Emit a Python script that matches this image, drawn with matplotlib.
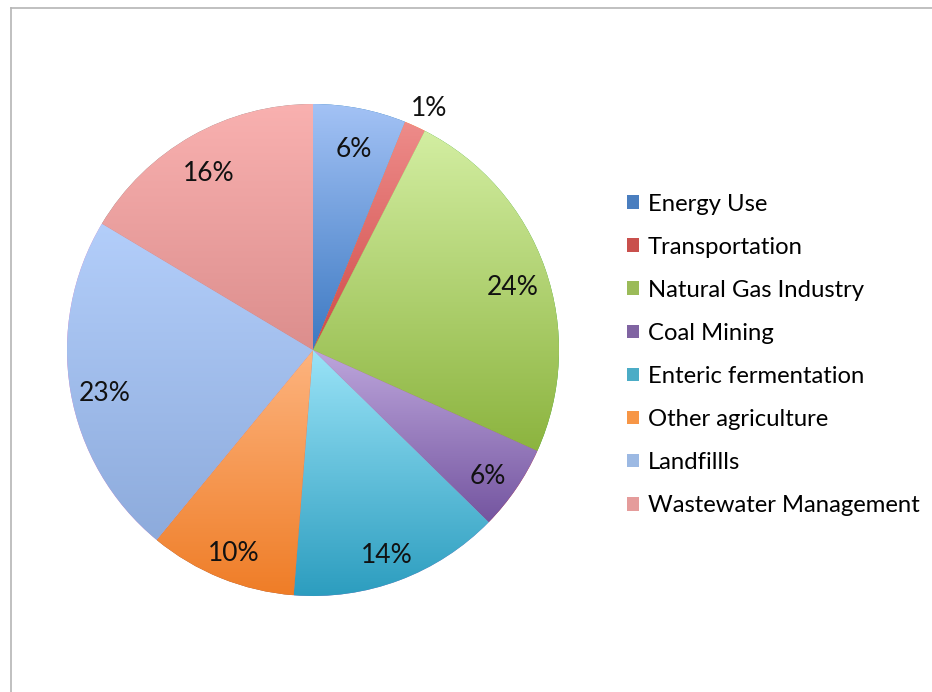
import numpy as np
import matplotlib
matplotlib.use("Agg")
import matplotlib.pyplot as plt
from matplotlib.patches import Patch
from matplotlib.lines import Line2D
from matplotlib.colors import to_rgb

plt.rcParams['font.family'] = ['Lato', 'DejaVu Sans']

# données (pourcentages)
categories = ["Energy Use", "Transportation", "Natural Gas Industry", "Coal Mining",
              "Enteric fermentation", "Other agriculture", "Landfillls", "Wastewater Management"]
shares = [6.1, 1.4, 24.2, 5.6, 13.9, 9.7, 22.6, 16.4]

# couleurs : haut clair -> bas foncé (dégradé type Excel), et couleur de légende
top_colors = ["#a3c2f5", "#ee8c8a", "#d3eea2", "#bda6dc", "#9ae3f7", "#fdb47f", "#b3cefa", "#f9b1b0"]
bottom_colors = ["#3c79c2", "#cf4b49", "#8cb43f", "#7455a0", "#2c9dbf", "#ef7d27", "#8dabdc", "#dc8e8d"]
legend_colors = ["#4a7ebf", "#c9504d", "#9bbb59", "#8064a2", "#4bacc6", "#f79646", "#9cb9e3", "#e59c9b"]

fig = plt.figure(figsize=(9.32, 6.92), dpi=100)
W, H = 932, 692
cx, cy, r = 313, 350, 246
ax = fig.add_axes([(cx - r) / W, (H - cy - r) / H, 2 * r / W, 2 * r / H])

wedges, texts, autotexts = ax.pie(shares, startangle=90, counterclock=False, radius=1,
                                  autopct='%.0f%%', pctdistance=0.86,
                                  wedgeprops=dict(linewidth=0),
                                  textprops=dict(fontsize=19, color="#111111"))

# remplissage en dégradé vertical, découpé sur chaque part
for w, c_top, c_bot in zip(wedges, top_colors, bottom_colors):
    ext = w.get_patch_transform().transform_path(w.get_path()).get_extents()
    t = np.linspace(0, 1, 256)[:, None, None]
    grad = (1 - t) * np.array(to_rgb(c_top)) + t * np.array(to_rgb(c_bot))
    im = ax.imshow(grad, extent=[ext.x0, ext.x1, ext.y0, ext.y1], origin='upper',
                   aspect='auto', interpolation='bilinear', zorder=w.get_zorder() + 0.1)
    im.set_clip_path(w)

# étiquettes un peu plus bas ; la petite part (1%) à l'extérieur
for w, at, s in zip(wedges, autotexts, shares):
    at.set_zorder(5)
    x, y = at.get_position()
    if s < 3:
        ang = np.deg2rad((w.theta1 + w.theta2) / 2)
        at.set_position((1.14 * np.cos(ang), 1.08 * np.sin(ang)))
    else:
        at.set_position((x, y - 0.03))

ax.set_xlim(-1, 1)
ax.set_ylim(-1, 1)
ax.set_aspect('equal')
ax.axis('off')

handles = [Patch(facecolor=c, edgecolor='none') for c in legend_colors]
fig.legend(handles, categories, loc='upper left', bbox_to_anchor=(617 / W, 1 - 184 / H),
           frameon=False, fontsize=17.2, handlelength=0.5, handleheight=0.5,
           handletextpad=0.38, labelspacing=0.925, borderaxespad=0)

# bordure du graphique
fig.add_artist(Line2D([10.5 / W, 10.5 / W], [0, 1 - 7.5 / H], color="#b5b5b5", lw=1.2))
fig.add_artist(Line2D([10.5 / W, 1], [1 - 7.5 / H, 1 - 7.5 / H], color="#b5b5b5", lw=1.2))

fig.savefig("out.png", dpi=100)
